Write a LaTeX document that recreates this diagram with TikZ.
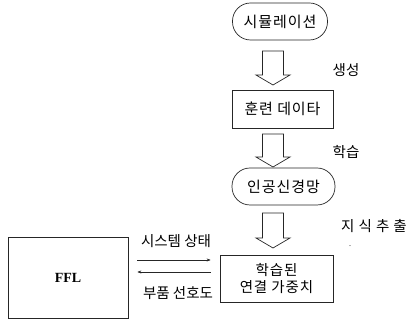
\documentclass[tikz,border=0pt]{standalone}
\usepackage{fontspec}
\setmainfont{Liberation Serif}
\newfontfamily\kr{Noto Sans CJK KR}
\usetikzlibrary{calc,arrows.meta}
\tikzset{
  ln/.style={draw=black!85, line width=0.7pt},
  stad/.style={ln, rounded corners=18pt, minimum width=95pt, minimum height=37pt, font=\kr\addfontfeatures{LetterSpace=6}\fontsize{15}{17}\selectfont, inner sep=0pt},
  boxn/.style={ln, minimum width=101pt, minimum height=38pt, font=\kr\addfontfeatures{LetterSpace=6}\fontsize{15}{17}\selectfont, inner sep=0pt, align=center},
  lbl/.style={font=\kr\fontsize{14.5}{17}\selectfont, inner sep=0pt},
  harrow/.style={ln, line join=miter},
  thinarr/.style={draw=black!85, line width=0.5pt, -{Stealth[length=4pt,width=3pt]}}
}
\newcommand\harrowdraw[2]{%
  \draw[harrow] ($(#1)+(-10.5,0)$) -- ($(#2)+(-10.5,-10)$) -- ($(#2)+(-17,-10)$) -- (#2)
    -- ($(#2)+(17,-10)$) -- ($(#2)+(10.5,-10)$) -- ($(#1)+(10.5,0)$) -- cycle;}
\begin{document}
\begin{tikzpicture}[x=1pt,y=-1pt]
\useasboundingbox (0,0) rectangle (416,328);
\node[stad] (s1) at (280,21.5) {시뮬레이션};
\node[boxn] (b1) at (282.5,109) {훈련 데이타};
\node[stad, minimum width=103pt] (s2) at (283.5,186.5) {인공신경망};
\node[boxn, minimum width=113pt, minimum height=47pt, font=\kr\addfontfeatures{LetterSpace=6}\fontsize{14.5}{17}\selectfont] (lw) at (276.5,278.5) {학습된\\연결 가중치};
\node[ln, minimum width=120pt, minimum height=81pt, font=\bfseries\fontsize{14}{16}\selectfont] (ffl) at (68,277.5) {FFL};

\coordinate (a1s) at (273,51);
\coordinate (a1e) at (273,85);
\coordinate (a2s) at (273,134);
\coordinate (a2e) at (273,167);
\coordinate (a3s) at (273,213);
\coordinate (a3e) at (273,248);
\harrowdraw{a1s}{a1e}
\harrowdraw{a2s}{a2e}
\harrowdraw{a3s}{a3e}

\node[lbl] (l1) at (346,70) {생성};
\node[lbl] (l2) at (346,152) {학습};
\node[lbl, font=\kr\addfontfeatures{LetterSpace=28}\fontsize{14.5}{17}\selectfont] (l3) at (374,226) {지식추출};
\node[lbl, font=\fontsize{8}{8}\selectfont] (dot) at (350,246) {.};

\draw[thinarr, shorten <=9pt, shorten >=9pt] ([yshift=17.5pt]ffl.east) -- ([yshift=17.5pt]ffl.east -| lw.west);
\draw[thinarr, shorten <=9pt, shorten >=9pt] ([yshift=5.5pt]ffl.east -| lw.west) -- ([yshift=5.5pt]ffl.east);
\node[lbl] (t1) at (176,241) {시스템 상태};
\node[lbl] (t2) at (178,293) {부품 선호도};
\end{tikzpicture}
\end{document}
